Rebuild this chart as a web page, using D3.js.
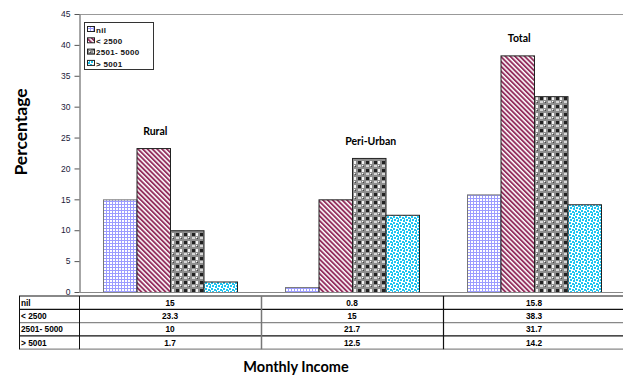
<!DOCTYPE html>
<html><head><meta charset="utf-8">
<script src="https://cdn.jsdelivr.net/npm/d3@7"></script>
<style>
html,body{margin:0;padding:0;background:#fff;}
svg{display:block;}
</style></head>
<body>
<svg id="chart" width="623" height="376"></svg>
<script>
// ---- data ----
const categories = ["Rural", "Peri-Urban", "Total"];
const seriesNames = ["nil", "< 2500", "2501- 5000", "> 5001"];
const nilValues = [15, 0.8, 15.8];
const lt2500Values = [23.3, 15, 38.3];
const mid5000Values = [10, 21.7, 31.7];
const gt5001Values = [1.7, 12.5, 14.2];
const yTicks = [0, 5, 10, 15, 20, 25, 30, 35, 40, 45];
const yTitle = "Percentage";
const xTitle = "Monthly Income";

const seriesValues = [nilValues, lt2500Values, mid5000Values, gt5001Values];
const patternIds = ["pNil", "pLt", "pMid", "pGt"];
const strokeCols = ["#777", "#222", "#222", "#222"];

const svg = d3.select("#chart");
const defs = svg.append("defs");

// nil: lavender grid
let p = defs.append("pattern").attr("id", "pNil").attr("patternUnits", "userSpaceOnUse").attr("width", 3).attr("height", 3);
p.append("rect").attr("width", 3).attr("height", 3).attr("fill", "#fff");
p.append("rect").attr("width", 3).attr("height", 1).attr("fill", "#9c9cff");
p.append("rect").attr("width", 1).attr("height", 3).attr("fill", "#9c9cff");

// <2500: maroon diagonal stripes
p = defs.append("pattern").attr("id", "pLt").attr("patternUnits", "userSpaceOnUse").attr("width", 3.4).attr("height", 6).attr("patternTransform", "rotate(-45)");
p.append("rect").attr("width", 3.4).attr("height", 6).attr("fill", "#fff");
p.append("rect").attr("width", 1.9).attr("height", 6).attr("fill", "#94305f");

// 2501-5000: plaid/checker
p = defs.append("pattern").attr("id", "pMid").attr("patternUnits", "userSpaceOnUse").attr("width", 8).attr("height", 8);
p.append("rect").attr("width", 8).attr("height", 8).attr("fill", "#8e8e8e");
p.append("rect").attr("x", 1).attr("y", 1).attr("width", 3).attr("height", 3).attr("fill", "#222");
p.append("rect").attr("x", 5).attr("y", 1).attr("width", 2).attr("height", 3).attr("fill", "#f4f4f4");
p.append("rect").attr("x", 1).attr("y", 5).attr("width", 3).attr("height", 2).attr("fill", "#d8d8d8");
p.append("rect").attr("x", 5).attr("y", 5).attr("width", 1).attr("height", 1).attr("fill", "#fff");
p.append("rect").attr("x", 6).attr("y", 6).attr("width", 1).attr("height", 1).attr("fill", "#444");

// >5001: cyan speckles
p = defs.append("pattern").attr("id", "pGt").attr("patternUnits", "userSpaceOnUse").attr("width", 6).attr("height", 6);
p.append("rect").attr("width", 6).attr("height", 6).attr("fill", "#fff");
[[0,0],[3,1],[1,3],[4,4],[5,2]].forEach(d => p.append("rect").attr("x", d[0]).attr("y", d[1]).attr("width", 2).attr("height", 2).attr("fill", "#1ec4f0"));

// ---- scales ----
const y = d3.scaleLinear().domain([0, 45]).range([292, 14]);
const x0 = d3.scaleBand().domain(categories).range([79, 625]).padding(0);
const x1 = d3.scaleBand().domain(seriesNames).range([24, x0.bandwidth() - 24]).padding(0);

const fontArial = "'Liberation Sans', Arial, sans-serif";
const fontCal = "Lato, 'Open Sans', sans-serif";

// top border line
svg.append("line").attr("x1", 79).attr("x2", 623).attr("y1", 14.5).attr("y2", 14.5).attr("stroke", "#999").attr("stroke-width", 1);

// bars
const groups = svg.selectAll("g.grp").data(categories).enter().append("g")
  .attr("transform", d => `translate(${x0(d)},0)`);
seriesNames.forEach((s, si) => {
  groups.append("rect")
    .attr("x", (d) => x1(s) + 0.5)
    .attr("y", (d, i) => y(seriesValues[si][i]) + 0.5)
    .attr("width", x1.bandwidth())
    .attr("height", (d, i) => y(0) - y(seriesValues[si][i]))
    .attr("fill", `url(#${patternIds[si]})`)
    .attr("stroke", strokeCols[si]).attr("stroke-width", 1);
});

// group labels above tallest bar
categories.forEach((c, i) => {
  let best = 0;
  seriesValues.forEach((arr, si) => { if (arr[i] > seriesValues[best][i]) best = si; });
  const cx = x0(c) + x1(seriesNames[best]) + x1.bandwidth() / 2;
  svg.append("text").attr("x", cx + 2).attr("y", y(seriesValues[best][i]) - 13)
    .attr("text-anchor", "middle").attr("font-family", fontCal).attr("font-weight", "bold")
    .attr("font-size", 10.5).attr("fill", "#000").text(c);
});

// y axis
const yAxis = svg.append("g").attr("transform", "translate(79.5,0)")
  .call(d3.axisLeft(y).tickValues(yTicks).tickSize(5).tickSizeOuter(0));
yAxis.select(".domain").attr("stroke", "#888").attr("stroke-width", 1.5);
yAxis.selectAll(".tick line").attr("stroke", "#555");
yAxis.selectAll(".tick text").attr("font-family", fontArial).attr("font-size", 8.5)
  .attr("fill", "#1a1a3a").attr("x", -9);

// baseline (double gray)
svg.append("line").attr("x1", 79).attr("x2", 623).attr("y1", 292.5).attr("y2", 292.5).attr("stroke", "#888").attr("stroke-width", 1);
svg.append("line").attr("x1", 19).attr("x2", 623).attr("y1", 296).attr("y2", 296).attr("stroke", "#888").attr("stroke-width", 2);

// data table
const rowTop = 296, rowH = 13.3;
const rowCols = ["#111", "#888", "#111", "#888"];
seriesNames.forEach((s, si) => {
  const yb = rowTop + rowH * (si + 1);
  svg.append("line").attr("x1", 19).attr("x2", 623).attr("y1", yb).attr("y2", yb)
    .attr("stroke", rowCols[si]).attr("stroke-width", 1.2);
  svg.append("text").attr("x", 21).attr("y", yb - 3.5).attr("font-family", fontArial)
    .attr("font-weight", "bold").attr("font-size", 8.3).attr("fill", "#000").text(s);
  categories.forEach((c, i) => {
    svg.append("text").attr("x", x0(c) + x0.bandwidth() / 2).attr("y", yb - 3.5)
      .attr("text-anchor", "middle").attr("font-family", fontArial).attr("font-weight", "bold")
      .attr("font-size", 8.3).attr("fill", "#000").text(seriesValues[si][i]);
  });
});
const tableBottom = rowTop + rowH * seriesNames.length;
svg.append("line").attr("x1", 19.5).attr("x2", 19.5).attr("y1", rowTop).attr("y2", tableBottom).attr("stroke", "#111");
svg.append("line").attr("x1", 79.5).attr("x2", 79.5).attr("y1", rowTop).attr("y2", tableBottom).attr("stroke", "#111");
categories.slice(1).forEach((c, i) => {
  svg.append("line").attr("x1", Math.round(x0(c)) + 0.5).attr("x2", Math.round(x0(c)) + 0.5)
    .attr("y1", rowTop).attr("y2", tableBottom).attr("stroke", i === 0 ? "#777" : "#111").attr("stroke-width", i === 0 ? 1.5 : 1.2);
});

// legend
const lg = svg.append("g").attr("transform", "translate(84,22)");
lg.append("rect").attr("x", 0.5).attr("y", 0.5).attr("width", 69).attr("height", 47)
  .attr("fill", "#fff").attr("stroke", "#333").attr("stroke-width", 1);
seriesNames.forEach((s, si) => {
  const yy = 4 + si * 11.3;
  lg.append("rect").attr("x", 3.5).attr("y", yy + 0.5).attr("width", 7).attr("height", 5)
    .attr("fill", `url(#${patternIds[si]})`).attr("stroke", "#222").attr("stroke-width", 1);
  lg.append("text").attr("x", 12).attr("y", yy + 6.8).attr("font-family", fontArial)
    .attr("font-size", 8).attr("font-weight", "bold").attr("letter-spacing", 0.3).attr("fill", "#111").text(s);
});

// axis titles
svg.append("text").attr("transform", "translate(27,132) rotate(-90)").attr("text-anchor", "middle")
  .attr("font-family", fontCal).attr("font-weight", "bold").attr("font-size", 17.5).attr("fill", "#000").text(yTitle);
svg.append("text").attr("x", 296).attr("y", 372).attr("text-anchor", "middle")
  .attr("font-family", fontCal).attr("font-weight", "bold").attr("font-size", 14.5).attr("fill", "#000").text(xTitle);
</script>
</body></html>
